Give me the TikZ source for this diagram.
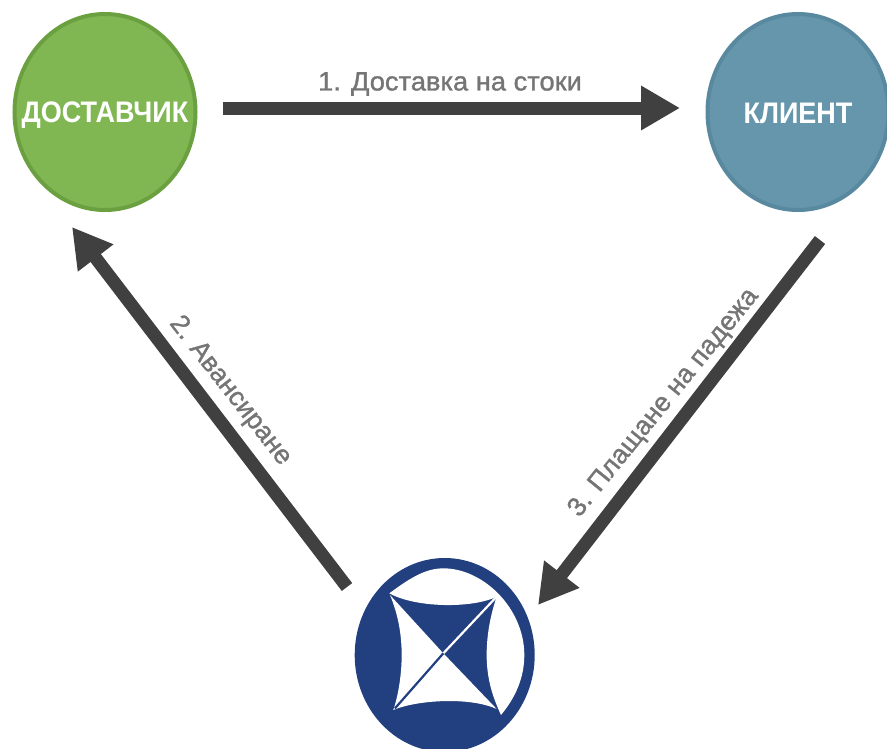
\documentclass[tikz,border=0pt]{standalone}
\usepackage{fontspec}
\setmainfont{Liberation Sans}
\newfontfamily\labelfont[FakeBold=1.2]{Liberation Sans}
\usetikzlibrary{shapes.geometric,arrows.meta}
\definecolor{grn}{HTML}{80B752}
\definecolor{grnb}{HTML}{6BA041}
\definecolor{tealc}{HTML}{6596AC}
\definecolor{tealb}{HTML}{58899F}
\definecolor{navy}{HTML}{223F7F}
\definecolor{arrowc}{HTML}{404040}
\definecolor{labelc}{HTML}{757575}
\tikzset{
  party/.style={ellipse,draw,line width=4pt,minimum width=181pt,minimum height=196pt,inner sep=0pt},
  partytext/.style={text=white,inner sep=0pt,font=\bfseries\fontsize{27}{27}\selectfont},
  flow/.style={draw=arrowc,line width=13pt,-{Triangle[length=39pt,width=42pt]}},
  flowlabel/.style={text=labelc,inner sep=0pt,font=\labelfont\fontsize{26}{26}\selectfont},
}
\begin{document}
\begin{tikzpicture}[x=1pt,y=-1pt]
\useasboundingbox (0,0) rectangle (887,748);
\node[party,fill=grn,draw=grnb] (sup) at (105,112) {};
\node[partytext] (suptext) at (105,115) {\scalebox{1}[1.1]{ДОСТАВЧИК}};
\node[party,fill=tealc,draw=tealb] (cli) at (798,112) {};
\node[partytext] (clitext) at (798,113) {\scalebox{1}[1.1]{КЛИЕНТ}};
% logo
\begin{scope}
\clip (0,0) rectangle (887,748);
\node[ellipse,fill=navy,minimum width=180pt,minimum height=194pt,inner sep=0pt] (logo) at (444.7,655) {};
\end{scope}
\begin{scope}[shift={(340,545)},x=0.3333pt,y=-0.3333pt]
\fill[white] (148,145) .. controls (215,95) and (260,70) .. (310,70)
  .. controls (430,70) and (553,190) .. (553,330)
  .. controls (553,400) and (525,460) .. (483,510)
  .. controls (470,480) and (440,420) .. (440,330)
  .. controls (440,260) and (455,200) .. (470,155)
  .. controls (400,190) and (230,190) .. (148,145) -- cycle;
\fill[white] (150,150) .. controls (175,210) and (185,270) .. (185,330)
  .. controls (185,390) and (175,450) .. (160,495) -- (310,325) -- cycle;
\fill[white] (160,495) .. controls (230,465) and (390,455) .. (470,492) -- (310,325) -- cycle;
\draw[white,line width=2.2pt] (310,325) -- (470,155);
\draw[navy,line width=2.2pt] (310,325) -- (165,490);
\end{scope}
\coordinate (a1s) at (223,108);
\coordinate (a1e) at (680,108);
\coordinate (a2s) at (347,587);
\coordinate (a2e) at (72,227);
\coordinate (a3s) at (820,240);
\coordinate (a3e) at (538,605);
\draw[flow] (a1s) -- (a1e);
\draw[flow] (a2s) -- (a2e);
\draw[flow] (a3s) -- (a3e);
\node[flowlabel] (l1) at (450,84) {\scalebox{1.05}[1.02]{1. Доставка на стоки}};
\node[flowlabel,rotate=-52] (l2) at (230,391) {\scalebox{1.03}[1.02]{2. Авансиране}};
\node[flowlabel,rotate=51] (l3) at (664,403) {\scalebox{1.03}[1.02]{3. Плащане на падежа}};
\end{tikzpicture}
\end{document}
